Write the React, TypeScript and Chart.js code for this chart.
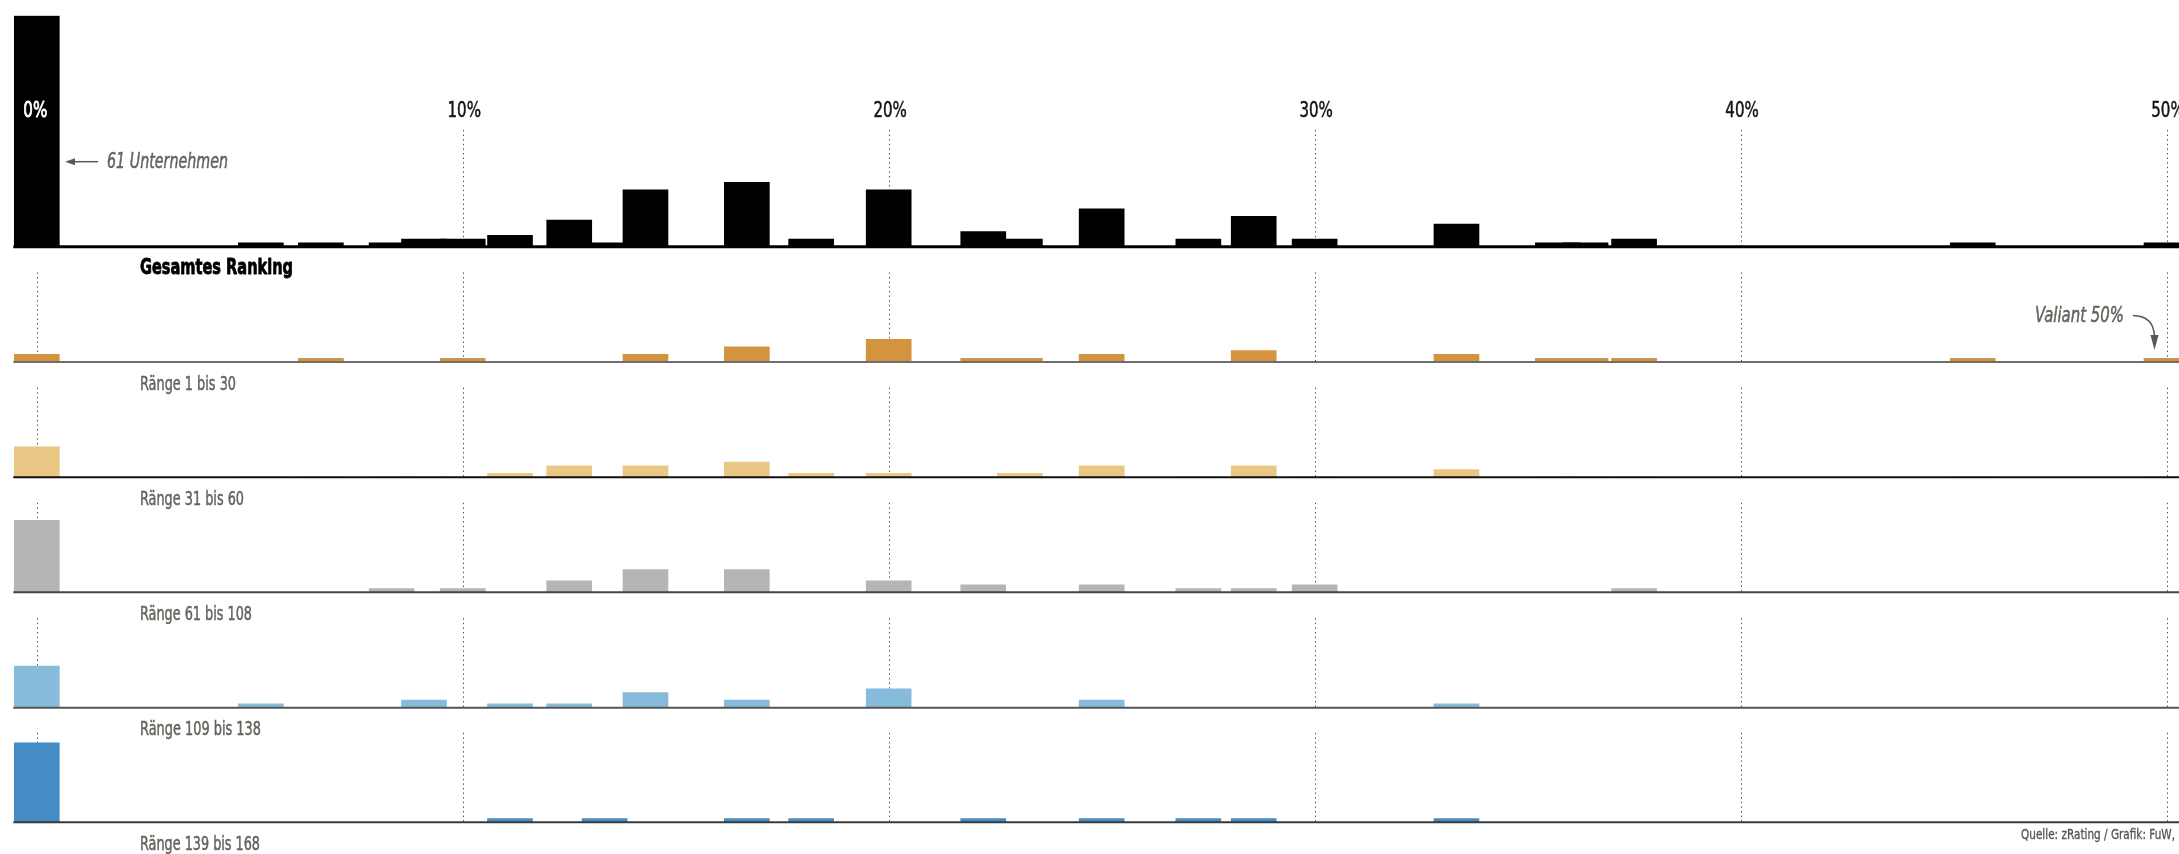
import React, { useEffect, useRef } from "react";
import { Chart, registerables } from "chart.js";

Chart.register(...registerables);

// Frauenanteil im Verwaltungsrat (%), Klassen
const SHARE_PCT = [0, 5.26, 6.67, 8.33, 9.09, 10, 11.11, 12.5, 13.33, 14.29, 16.67, 18.18, 20, 22.22, 23.08, 25, 27.27, 28.57, 30, 33.33, 35.71, 36.36, 37.5, 45.45, 50];

// Anzahl Unternehmen je Klasse
const COUNT_TOTAL = [61, 1, 1, 1, 2, 2, 3, 7, 1, 15, 17, 2, 15, 4, 2, 10, 2, 8, 2, 6, 1, 1, 2, 1, 1];
const COUNT_1_30 = [2, 0, 1, 0, 0, 1, 0, 0, 0, 2, 4, 0, 6, 1, 1, 2, 0, 3, 0, 2, 1, 1, 1, 1, 1];
const COUNT_31_60 = [8, 0, 0, 0, 0, 0, 1, 3, 0, 3, 4, 1, 1, 0, 1, 3, 0, 3, 0, 2, 0, 0, 0, 0, 0];
const COUNT_61_108 = [19, 0, 0, 1, 0, 1, 0, 3, 0, 6, 6, 0, 3, 2, 0, 2, 1, 1, 2, 0, 0, 0, 1, 0, 0];
const COUNT_109_138 = [11, 1, 0, 0, 2, 0, 1, 1, 0, 4, 2, 0, 5, 0, 0, 2, 0, 0, 0, 1, 0, 0, 0, 0, 0];
const COUNT_139_168 = [21, 0, 0, 0, 0, 0, 1, 0, 1, 0, 1, 1, 0, 1, 0, 1, 1, 1, 0, 1, 0, 0, 0, 0, 0];

const X_TICKS = [0, 10, 20, 30, 40, 50];
const X_TICK_LABELS = ["0%", "10%", "20%", "30%", "40%", "50%"];
const PANEL_LABELS = [
  "Gesamtes Ranking",
  "Ränge 1 bis 30",
  "Ränge 31 bis 60",
  "Ränge 61 bis 108",
  "Ränge 109 bis 138",
  "Ränge 139 bis 168",
];
const NOTE_TOTAL = "61 Unternehmen";
const NOTE_VALIANT = "Valiant 50%";
const SOURCE = "Quelle: zRating / Grafik: FuW,";

const PANEL_VALUES = [COUNT_TOTAL, COUNT_1_30, COUNT_31_60, COUNT_61_108, COUNT_109_138, COUNT_139_168];

// ---- layout & style ----
const W = 2179;
const H = 854;
const X_MIN = -0.864;
const X_MAX = 50.293;
const UNIT_PX = 3.787;
const BAR_PX = 45;
const FONT = '"Liberation Sans Narrow", "DejaVu Sans Condensed", "Roboto", sans-serif';
const GRAY_TEXT = "#67625d";

type PanelStyle = {
  color: string;
  baseline: number;
  areaTop: number;
  canvasTop: number;
  canvasHeight: number;
  dotTop: number;
  axisColor: string;
  axisWidth: number;
  labelWidth: number;
  labelBold: boolean;
};

const SUB_BASELINES = [362, 477.2, 592.3, 707.7, 822.3];
const SUB_COLORS = ["#d4933f", "#ebc785", "#b5b5b5", "#86bbdb", "#448cc3"];
const SUB_AXIS = ["#6e6e6e", "#111111", "#444444", "#555555", "#3a3a3a"];
const LABEL_WIDTHS = [153, 96, 104, 112, 121, 120];

const PANEL_STYLES: PanelStyle[] = [
  {
    color: "#000000",
    baseline: 246.7,
    areaTop: 15.7,
    canvasTop: 0,
    canvasHeight: 285,
    dotTop: 130,
    axisColor: "#000000",
    axisWidth: 3,
    labelWidth: LABEL_WIDTHS[0],
    labelBold: true,
  },
  ...SUB_BASELINES.map((b, i) => {
    const canvasTop = Math.floor(b - 95);
    return {
      color: SUB_COLORS[i],
      baseline: b,
      areaTop: b - 89.5,
      canvasTop,
      canvasHeight: Math.min(132, H - canvasTop),
      dotTop: b - 89.5,
      axisColor: SUB_AXIS[i],
      axisWidth: 2,
      labelWidth: LABEL_WIDTHS[i + 1],
      labelBold: false,
    };
  }),
];

function fitText(
  ctx: CanvasRenderingContext2D,
  text: string,
  x: number,
  y: number,
  width: number,
  align: "left" | "center" | "right",
  font: string,
  color: string,
  weightPx = 0.5
) {
  ctx.save();
  ctx.font = font;
  ctx.fillStyle = color;
  ctx.strokeStyle = color;
  ctx.lineJoin = "round";
  ctx.textBaseline = "alphabetic";
  ctx.textAlign = "left";
  const w0 = ctx.measureText(text).width || 1;
  const sx = width / w0;
  const left = align === "left" ? x : align === "center" ? x - width / 2 : x - width;
  ctx.translate(left, y);
  ctx.scale(sx, 1);
  ctx.fillText(text, 0, 0);
  if (weightPx > 0) {
    ctx.lineWidth = weightPx;
    ctx.strokeText(text, 0, 0);
  }
  ctx.restore();
}

function makeDecor(idx: number, st: PanelStyle) {
  return {
    id: "decor" + idx,
    beforeDatasetsDraw(chart: any) {
      const ctx: CanvasRenderingContext2D = chart.ctx;
      const xs = chart.scales.x;
      const top = st.dotTop - st.canvasTop;
      const bottom = st.baseline - st.canvasTop;
      ctx.save();
      ctx.strokeStyle = "#4a4a4a";
      ctx.lineWidth = 1;
      ctx.setLineDash([1.4, 3.2]);
      X_TICKS.forEach((t) => {
        const x = Math.round(xs.getPixelForValue(t)) + 0.5;
        ctx.beginPath();
        ctx.moveTo(x, top);
        ctx.lineTo(x, bottom);
        ctx.stroke();
      });
      ctx.restore();
    },
    afterDatasetsDraw(chart: any) {
      const ctx: CanvasRenderingContext2D = chart.ctx;
      const xs = chart.scales.x;
      const oy = st.canvasTop;
      const by = st.baseline - oy;
      // baseline
      ctx.save();
      ctx.strokeStyle = st.axisColor;
      ctx.lineWidth = st.axisWidth;
      ctx.beginPath();
      ctx.moveTo(xs.getPixelForValue(SHARE_PCT[0]) - BAR_PX / 2 - 1, by);
      ctx.lineTo(W, by);
      ctx.stroke();
      ctx.restore();

      // panel label
      fitText(
        ctx,
        PANEL_LABELS[idx],
        140,
        st.baseline + 27.6 - oy,
        st.labelWidth,
        "left",
        (st.labelBold ? "bold 22px " : "20px ") + FONT,
        st.labelBold ? "#000000" : GRAY_TEXT,
        st.labelBold ? 0.8 : 0.5
      );

      if (idx === 0) {
        X_TICKS.forEach((t, i) => {
          const x = xs.getPixelForValue(t);
          fitText(
            ctx,
            X_TICK_LABELS[i],
            x - (i === 0 ? 1.5 : -1.5),
            116.7 - oy,
            i === 0 ? 24 : 33.5,
            "center",
            "22px " + FONT,
            i === 0 ? "#ffffff" : "#141414",
            i === 0 ? 0.8 : 0.5
          );
        });
        // arrow + note
        const ay = 161.7 - oy;
        ctx.save();
        ctx.strokeStyle = "#5c5752";
        ctx.fillStyle = "#5c5752";
        ctx.lineWidth = 1.5;
        ctx.beginPath();
        ctx.moveTo(98, ay);
        ctx.lineTo(72, ay);
        ctx.stroke();
        ctx.beginPath();
        ctx.moveTo(65, ay);
        ctx.lineTo(75, ay - 3.5);
        ctx.lineTo(75, ay + 3.5);
        ctx.closePath();
        ctx.fill();
        ctx.restore();
        fitText(ctx, NOTE_TOTAL, 107, 168.3 - oy, 121, "left", "italic 21px " + FONT, GRAY_TEXT);
      }

      if (idx === 1) {
        fitText(ctx, NOTE_VALIANT, 2124, 321.7 - oy, 89, "right", "italic 22px " + FONT, GRAY_TEXT);
        ctx.save();
        ctx.strokeStyle = "#5c5752";
        ctx.fillStyle = "#5c5752";
        ctx.lineWidth = 1.5;
        ctx.beginPath();
        ctx.moveTo(2133, 315.5 - oy);
        ctx.quadraticCurveTo(2154, 316 - oy, 2154.5, 337 - oy);
        ctx.stroke();
        ctx.beginPath();
        ctx.moveTo(2154.5, 350 - oy);
        ctx.lineTo(2150.5, 335 - oy);
        ctx.lineTo(2158.5, 335 - oy);
        ctx.closePath();
        ctx.fill();
        ctx.restore();
      }

      if (idx === 5) {
        fitText(ctx, SOURCE, 2175, 839.3 - oy, 154, "right", "14px " + FONT, "#575350", 0.3);
      }
    },
  };
}

function Panel({ idx }: { idx: number }) {
  const ref = useRef<HTMLCanvasElement>(null);
  const st = PANEL_STYLES[idx];
  useEffect(() => {
    const canvas = ref.current;
    if (!canvas) return;
    const padTop = st.areaTop - st.canvasTop;
    const padBottom = st.canvasTop + st.canvasHeight - st.baseline;
    const areaH = st.baseline - st.areaTop;
    const values = PANEL_VALUES[idx];
    const chart = new Chart(canvas, {
      type: "bar",
      data: {
        datasets: [
          {
            data: SHARE_PCT.map((x, i) => ({ x, y: values[i] })),
            backgroundColor: st.color,
            borderWidth: 0,
            barThickness: BAR_PX,
          } as any,
        ],
      },
      options: {
        animation: false,
        responsive: false,
        maintainAspectRatio: false,
        events: [],
        layout: { padding: { top: padTop, bottom: padBottom, left: 0, right: 0 } },
        plugins: { legend: { display: false }, tooltip: { enabled: false } },
        scales: {
          x: { type: "linear", min: X_MIN, max: X_MAX, offset: false, display: false },
          y: { type: "linear", min: 0, max: areaH / UNIT_PX, display: false },
        },
      } as any,
      plugins: [makeDecor(idx, st)],
    });
    return () => chart.destroy();
  }, []);
  return (
    <canvas
      ref={ref}
      width={W}
      height={st.canvasHeight}
      style={{
        position: "absolute",
        left: 0,
        top: st.canvasTop,
        width: W,
        height: st.canvasHeight,
        display: "block",
      }}
    />
  );
}

export default function App() {
  return (
    <div
      style={{
        position: "absolute",
        left: 0,
        top: 0,
        width: W,
        height: H,
        overflow: "hidden",
        background: "#ffffff",
      }}
    >
      {PANEL_STYLES.map((_, i) => (
        <Panel key={i} idx={i} />
      ))}
    </div>
  );
}
